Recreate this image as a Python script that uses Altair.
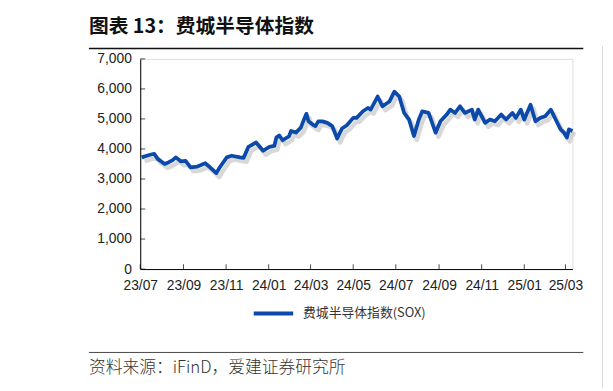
import altair as alt
import pandas as pd

# ---- data ----
dates = [
    "2023-07-03", "2023-07-14", "2023-07-21", "2023-07-26", "2023-08-05", "2023-08-11",
    "2023-08-16", "2023-08-21", "2023-08-28", "2023-09-04", "2023-09-11", "2023-09-21",
    "2023-10-02", "2023-10-09", "2023-10-18", "2023-10-23", "2023-11-02", "2023-11-09",
    "2023-11-21", "2023-11-26", "2023-12-03", "2023-12-14", "2023-12-24", "2024-01-02",
    "2024-01-09", "2024-01-12", "2024-01-16", "2024-01-21", "2024-01-30", "2024-02-02",
    "2024-02-09", "2024-02-16", "2024-02-20", "2024-02-24", "2024-02-27", "2024-03-05",
    "2024-03-08", "2024-03-12", "2024-03-18", "2024-03-25", "2024-04-01", "2024-04-08",
    "2024-04-15", "2024-04-22", "2024-05-01", "2024-05-06", "2024-05-15", "2024-05-22",
    "2024-05-26", "2024-06-05", "2024-06-12", "2024-06-22", "2024-06-29", "2024-07-06",
    "2024-07-13", "2024-07-20", "2024-07-27", "2024-08-03", "2024-08-08", "2024-08-17",
    "2024-08-27", "2024-09-03", "2024-09-12", "2024-09-17", "2024-09-24", "2024-10-01",
    "2024-10-08", "2024-10-18", "2024-10-22", "2024-10-27", "2024-11-06", "2024-11-13",
    "2024-11-20", "2024-11-29", "2024-12-06", "2024-12-15", "2024-12-20", "2024-12-27",
    "2025-01-01", "2025-01-10", "2025-01-17", "2025-01-24", "2025-01-31", "2025-02-08",
    "2025-02-15", "2025-02-22", "2025-02-27", "2025-03-03", "2025-03-06", "2025-03-11",
]
sox = [
    3720, 3800, 3840, 3670, 3500, 3560,
    3620, 3720, 3590, 3600, 3390, 3415,
    3525, 3390, 3196, 3390, 3720, 3775,
    3720, 3700, 4072, 4215, 3940, 4070,
    4100, 4380, 4450, 4290, 4420, 4600,
    4545, 4710, 4950, 5170, 4920, 4795,
    4760, 4920, 4920, 4870, 4760, 4350,
    4680, 4790, 5035, 5035, 5255, 5365,
    5310, 5747, 5420, 5583, 5911, 5747,
    5200, 4980, 4433, 4980, 5255, 5200,
    4542, 4920, 5145, 5310, 5200, 5420,
    5200, 5310, 4980, 5310, 4870, 4980,
    4920, 5145, 4980, 5200, 5035, 5310,
    4980, 5474, 4920, 5035, 5090, 5310,
    4980, 4652, 4542, 4380, 4652, 4600,
]
series_name = "费城半导体指数(SOX)"
x_ticks = ["2023-07-01", "2023-09-01", "2023-11-01", "2024-01-01", "2024-03-01", "2024-05-01",
           "2024-07-01", "2024-09-01", "2024-11-01", "2025-01-01", "2025-03-01"]
y_ticks = [0, 1000, 2000, 3000, 4000, 5000, 6000, 7000]
title_text = "图表 13：费城半导体指数"
source_text = "资料来源：iFinD，爱建证券研究所"

df = pd.DataFrame({"date": dates, "value": sox, "series": series_name})
xt = pd.DataFrame({"date": x_ticks})
yt = pd.DataFrame({"value": y_ticks})

W, H = 438, 213
LEFT, TOP = 134, 49
BLUE = "#0B4AAB"
LABEL_FONT = "Liberation Sans"
CJK = "Noto Sans CJK SC"

xscale = alt.Scale(domain=["2023-07-01", "2025-03-11"])
yscale = alt.Scale(domain=[0, 7000], nice=False)

xaxis = alt.Axis(values=x_ticks, format="%y/%m", formatType="time", title=None, grid=False,
                 tickSize=0, labelPadding=10, labelFont=LABEL_FONT, labelFontSize=14,
                 labelColor="#222", domainColor="#000", domainWidth=1, labelFlush=False,
                 labelOverlap=False)
yaxis = alt.Axis(values=y_ticks, format=",.0f", formatType="number", title=None, grid=False,
                 tickSize=0, labelPadding=9, labelFont=LABEL_FONT, labelFontSize=14,
                 labelColor="#222", domainColor="#000", domainWidth=1, labelOverlap=False)

X = lambda f: alt.X(f, scale=xscale, axis=xaxis)
Y = lambda f: alt.Y(f, scale=yscale, axis=yaxis)

base = alt.Chart(df)

shadow = base.mark_line(color="#a8a8a8", strokeWidth=4.5, opacity=0.45, xOffset=3, yOffset=4,
                        strokeJoin="round").encode(x=X("date:T"), y=Y("value:Q"))

line = base.mark_line(strokeWidth=3.8, strokeJoin="round").encode(
    x=X("date:T"),
    y=Y("value:Q"),
    color=alt.Color("series:N", scale=alt.Scale(range=[BLUE]),
                    legend=alt.Legend(title=None, orient="none", legendX=113, legendY=236,
                                      symbolType="stroke", symbolSize=1600,
                                      symbolStrokeWidth=4, symbolStrokeColor=BLUE,
                                      labelFont=CJK, labelFontSize=13, labelColor="#333",
                                      labelOffset=8)),
)

# inward-pointing axis ticks
xticks_layer = alt.Chart(xt).mark_tick(orient="vertical", size=5, thickness=1, color="#000",
                                       yOffset=-2.5).encode(x=X("date:T"), y=alt.value(H))

yticks_layer = alt.Chart(yt).mark_tick(orient="horizontal", size=5, thickness=1, color="#000",
                                       xOffset=2.5).encode(y=Y("value:Q"), x=alt.value(0))

title = alt.Chart(pd.DataFrame({"t": [title_text]})).mark_text(
    font=CJK, fontSize=20, fontWeight="bold", color="#111", align="left", baseline="alphabetic"
).encode(text="t:N", x=alt.value(90 - 142), y=alt.value(31 - 57))

top_rule = alt.Chart(pd.DataFrame({"a": [0]})).mark_rule(color="#111", strokeWidth=1.5).encode(
    x=alt.value(90 - 142), x2=alt.value(591 - 142), y=alt.value(46.5 - 57))

bottom_rule = alt.Chart(pd.DataFrame({"a": [0]})).mark_rule(color="#444", strokeWidth=1).encode(
    x=alt.value(90 - 142), x2=alt.value(591 - 142), y=alt.value(354.5 - 57))

source = alt.Chart(pd.DataFrame({"t": [source_text]})).mark_text(
    font=CJK, fontSize=17, fontWeight=300, color="#333", align="left", baseline="alphabetic"
).encode(text="t:N", x=alt.value(90 - 142), y=alt.value(375 - 57))

# neighbouring panel edge
side_rule = alt.Chart(pd.DataFrame({"a": [0]})).mark_rule(color="#d8d8d8", strokeWidth=1).encode(
    x=alt.value(610.5 - 142), y=alt.value(44 - 57), y2=alt.value(391 - 57))

chart = alt.layer(shadow, line, xticks_layer, yticks_layer, title, top_rule, bottom_rule, source,
                  side_rule).properties(
    width=W, height=H,
    padding={"left": LEFT, "top": TOP, "right": 613 - 8 - LEFT - W, "bottom": 383 - TOP - H},
    autosize=alt.AutoSizeParams(type="none"),
).configure_view(stroke=None).configure(background="white")

chart.save("out.html", embed_options={"renderer": "svg", "actions": False})
